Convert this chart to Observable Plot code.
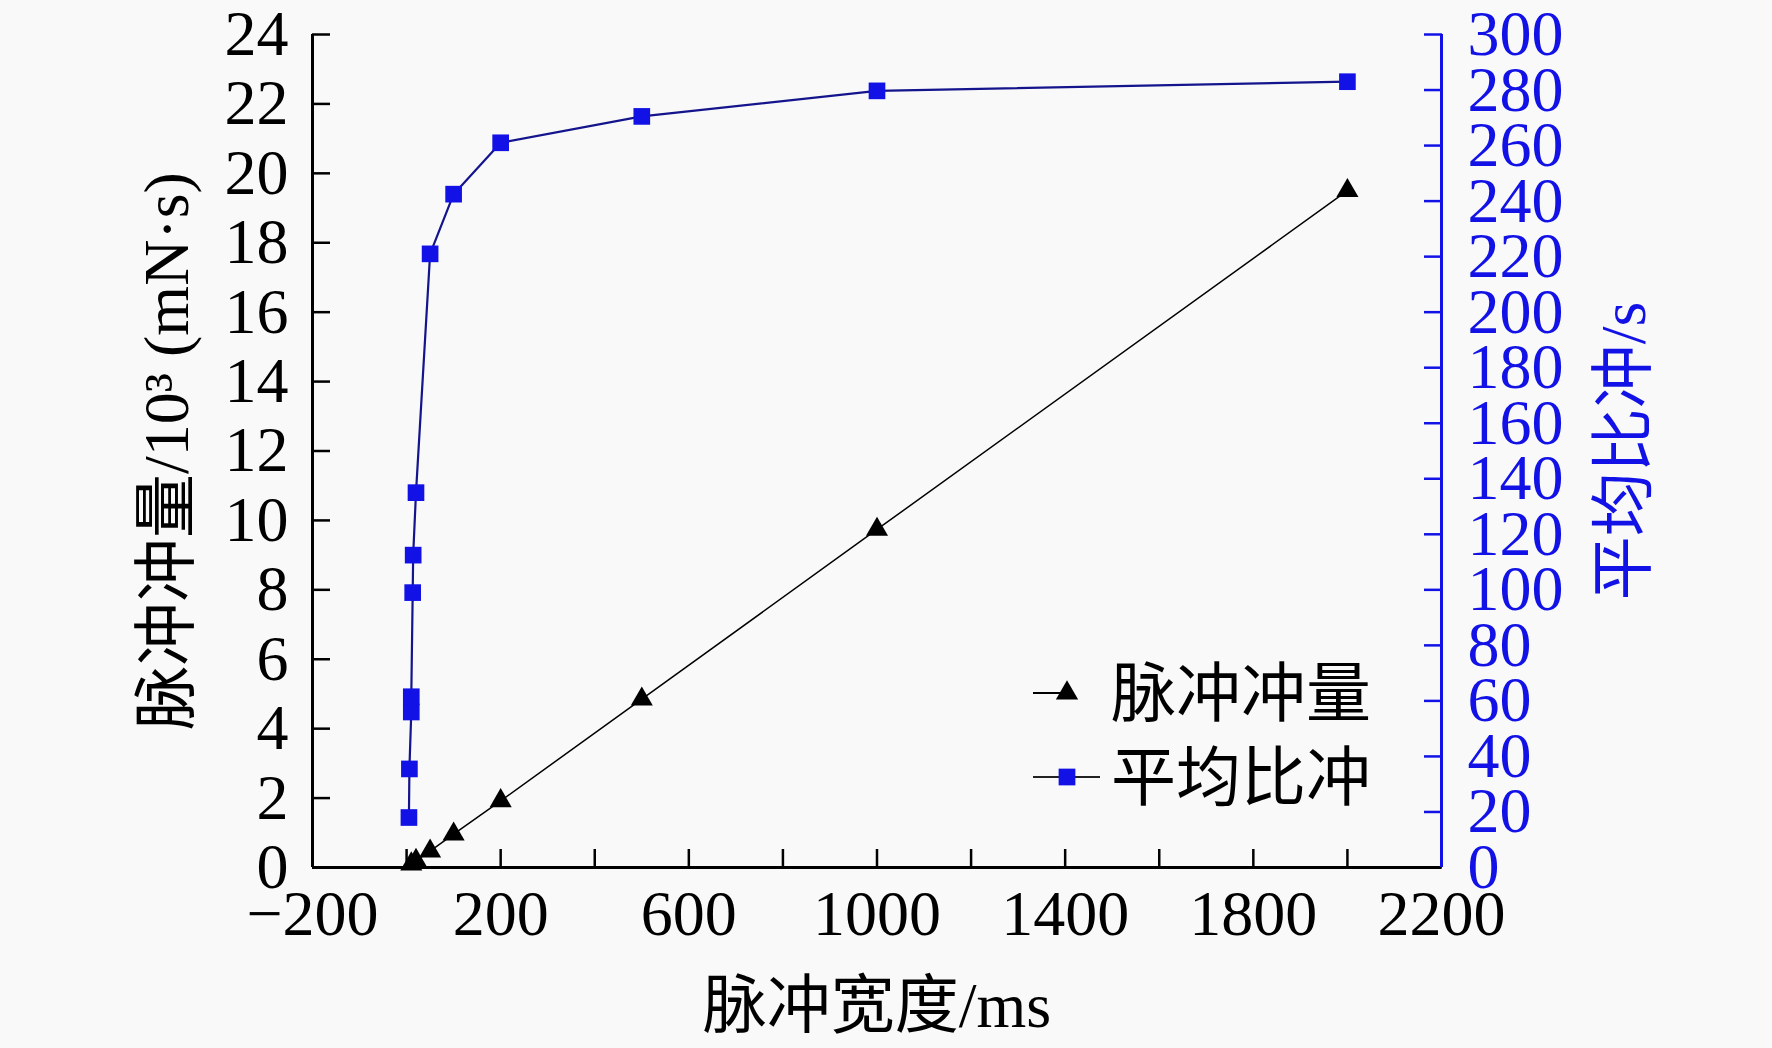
<!DOCTYPE html>
<html><head><meta charset="utf-8">
<script src="https://cdn.jsdelivr.net/npm/d3@7"></script>
<script src="https://cdn.jsdelivr.net/npm/@observablehq/plot@0.6"></script>
<style>html,body{margin:0;padding:0;background:#f9f9f9}</style>
</head><body>
<script>
// ---- data ----
const xDomain = [-200, 2200];
const yDomain = [0, 24];            // left axis: impulse /10^3 mN·s
const rightDomain = [0, 300];       // right axis: average specific impulse /s
const xTicks = [-200, 0, 200, 400, 600, 800, 1000, 1200, 1400, 1600, 1800, 2000, 2200];
const xTickLabels = [-200, 200, 600, 1000, 1400, 1800, 2200];
const yTicks = [0, 2, 4, 6, 8, 10, 12, 14, 16, 18, 20, 22, 24];
const rightTicks = [0, 20, 40, 60, 80, 100, 120, 140, 160, 180, 200, 220, 240, 260, 280, 300];

// 脉冲冲量 (triangles)
const impulseWidth = [10, 20, 50, 100, 200, 500, 1000, 2000];
const impulseValue = [0.1, 0.2, 0.47, 0.96, 1.92, 4.85, 9.74, 19.5];
// 平均比冲 (squares)
const ispWidth = [5, 6, 10, 10, 13, 14, 20, 50, 100, 200, 500, 1000, 2000];
const ispValue = [18, 35.5, 56, 61.5, 99, 112.5, 135, 221, 242.5, 261, 270.5, 279.7, 283];

const seriesNames = ["脉冲冲量", "平均比冲"];
const xTitle = "脉冲宽度/ms";
const yTitle = "脉冲冲量/10³ (mN·s)";
const rTitle = "平均比冲/s";

// ---- build ----
const k = yDomain[1] / rightDomain[1];
const blue = "#1212e6";
const navy = "#14148c";
const font = "'Liberation Serif', 'Noto Sans CJK SC', serif";
const cjk = "'Noto Sans CJK SC', sans-serif";
const fmt = d3.format("d");

const tri = impulseWidth.map((w, i) => ({w, v: impulseValue[i]}));
const sq = ispWidth.map((w, i) => ({w, v: ispValue[i] * k}));

const W = 1772, H = 1048, ML = 312, MR = 331, MT = 34, MB = 181;

function legend() {
  const g = d3.create("svg:g");
  const x0 = W - MR - 408;
  const yb = H - MB;
  const rows = [
    {y: yb - 174, line: [0, 27], sym: d3.symbolTriangle, size: 215, fill: "black", stroke: "black"},
    {y: yb - 90, line: [0, 67], sym: d3.symbolSquare, size: 280, fill: blue, stroke: "#222"}
  ];
  rows.forEach((r, i) => {
    g.append("line").attr("x1", x0 + r.line[0]).attr("x2", x0 + r.line[1])
      .attr("y1", r.y).attr("y2", r.y).attr("stroke", r.stroke).attr("stroke-width", 2);
    g.append("path").attr("d", d3.symbol(r.sym, r.size)())
      .attr("transform", `translate(${x0 + 34},${r.y})`).attr("fill", r.fill);
    g.append("text").attr("x", x0 + 78).attr("y", r.y).attr("dy", "0.36em")
      .attr("text-anchor", "start")
      .attr("font-family", cjk).attr("font-size", 65).attr("fill", "black")
      .text(seriesNames[i]);
  });
  return g.node();
}

const chart = Plot.plot({
  width: W, height: H,
  marginLeft: ML, marginRight: MR, marginTop: MT, marginBottom: MB,
  style: {background: "#f9f9f9", fontFamily: font, fontSize: "64px", color: "black", overflow: "visible"},
  x: {domain: xDomain, axis: null},
  y: {domain: yDomain, axis: null},
  marks: [
    Plot.axisX({anchor: "bottom", ticks: xTicks, tickSize: 18, dy: -18, tickPadding: 22,
      strokeWidth: 2.5, tickFormat: d => xTickLabels.includes(d) ? fmt(d) : "", label: null, fontSize: 64}),
    Plot.axisY({anchor: "left", ticks: yTicks, tickSize: 18, dx: 18, tickPadding: 24,
      strokeWidth: 2.5, tickFormat: fmt, label: null, fontSize: 64}),
    Plot.axisY({anchor: "right", ticks: rightTicks.map(v => v * k), tickSize: 18, dx: -18, tickPadding: 26,
      strokeWidth: 2.5, color: blue, tickFormat: d => fmt(Math.round(d / k)), label: null, fontSize: 64}),
    Plot.ruleY([yDomain[0]], {stroke: "black", strokeWidth: 3}),
    Plot.ruleX([xDomain[0]], {stroke: "black", strokeWidth: 3}),
    Plot.ruleX([xDomain[1]], {stroke: blue, strokeWidth: 3}),
    Plot.line(tri, {x: "w", y: "v", stroke: "black", strokeWidth: 1.5}),
    Plot.line(sq, {x: "w", y: "v", stroke: navy, strokeWidth: 2.2}),
    Plot.dot(tri, {x: "w", y: "v", symbol: "triangle", r: 8.2, fill: "black", stroke: "none"}),
    Plot.dot(sq, {x: "w", y: "v", symbol: "square", r: 9.4, fill: blue, stroke: "none"}),
    Plot.text([xTitle], {frameAnchor: "bottom", dy: 139, fontSize: 64, fontFamily: font, lineAnchor: "middle", textAnchor: "middle", fill: "black"}),
    Plot.text([yTitle], {frameAnchor: "left", dx: -145, rotate: -90, fontSize: 64, fontFamily: font, lineAnchor: "middle", textAnchor: "middle", fill: "black"}),
    Plot.text([rTitle], {frameAnchor: "right", dx: 183, rotate: -90, fontSize: 64, fontFamily: font, lineAnchor: "middle", textAnchor: "middle", fill: blue}),
    legend
  ]
});
document.body.append(chart);
</script>
</body></html>
